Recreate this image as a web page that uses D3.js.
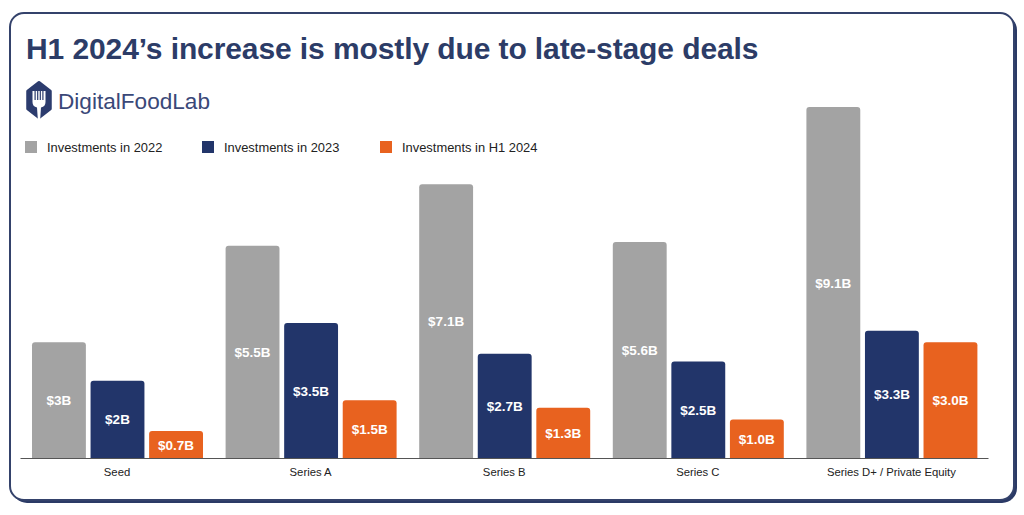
<!DOCTYPE html>
<html><head><meta charset="utf-8">
<script src="https://cdn.jsdelivr.net/npm/d3@7"></script>
<style>body{margin:0;background:#fff;}svg{display:block;font-family:"Liberation Sans",Arial,Helvetica,sans-serif;}</style>
</head><body>
<script>
const categories = ["Seed","Series A","Series B","Series C","Series D+ / Private Equity"];
const seriesNames = ["Investments in 2022","Investments in 2023","Investments in H1 2024"];
const values2022 = [3, 5.5, 7.1, 5.6, 9.1];
const values2023 = [2, 3.5, 2.7, 2.5, 3.3];
const valuesH12024 = [0.7, 1.5, 1.3, 1.0, 3.0];
const labels2022 = ["$3B","$5.5B","$7.1B","$5.6B","$9.1B"];
const labels2023 = ["$2B","$3.5B","$2.7B","$2.5B","$3.3B"];
const labelsH12024 = ["$0.7B","$1.5B","$1.3B","$1.0B","$3.0B"];
const colors = ["#a3a3a3","#22356a","#e8621f"];

const W=1024,H=515;
const svg=d3.select("body").append("svg").attr("width",W).attr("height",H);

// card border with shadow
svg.append("rect").attr("x",12).attr("y",15).attr("width",1005).attr("height",488).attr("rx",15)
  .attr("fill","#2b3a66");
svg.append("rect").attr("x",10).attr("y",13).attr("width",1004).attr("height",487).attr("rx",14)
  .attr("fill","#fff").attr("stroke","#34426b").attr("stroke-width",2);

// title
svg.append("text").attr("x",26).attr("y",59).attr("fill","#2c3c67")
  .attr("font-size",30).attr("font-weight","bold").attr("letter-spacing",-0.1)
  .text("H1 2024’s increase is mostly due to late-stage deals");

// logo
const lg=svg.append("g").attr("transform","translate(39,100)");
const hex=d3.range(6).map(i=>{const a=Math.PI/3*i-Math.PI/2;return [13*Math.cos(a)*1.0,17.5*Math.sin(a)];});
lg.append("path").attr("d","M"+hex.map(p=>p.join(",")).join("L")+"Z").attr("fill","#2c3c6e")
  .attr("stroke","#2c3c6e").attr("stroke-width",3).attr("stroke-linejoin","round");
lg.append("path").attr("d","M-6.5,-9 L-6.5,2 Q-6.5,6.5 -2,7.5 L-1.2,19 L1.2,19 L2,7.5 Q6.5,6.5 6.5,2 L6.5,-9 Z").attr("fill","#fff");
[-3.9,-1.3,1.3,3.9].forEach(x=>lg.append("rect").attr("x",x-0.6).attr("y",-9).attr("width",1.2).attr("height",9).attr("fill","#2c3c6e"));
svg.append("text").attr("x",58).attr("y",109).attr("fill","#3a4878").attr("font-size",22.6)
  .text("DigitalFoodLab");

// legend
const legX=[25,202,380];
seriesNames.forEach((s,i)=>{
  svg.append("rect").attr("x",legX[i]).attr("y",141).attr("width",12).attr("height",12).attr("fill",colors[i]);
  svg.append("text").attr("x",legX[i]+22).attr("y",151.5).attr("font-size",12.9).attr("fill","#222").text(s);
});

// scales
const baseline=458;
const x0=d3.scaleBand().domain(categories).range([20,988]).paddingInner(0.0).paddingOuter(0.0);
const x1=d3.scaleBand().domain([0,1,2]).range([12,183]).paddingInner(0.08);
const y=d3.scaleLinear().domain([0,9.1]).range([baseline,107]);

const data=categories.map((c,i)=>({c,vals:[values2022[i],values2023[i],valuesH12024[i]],labs:[labels2022[i],labels2023[i],labelsH12024[i]]}));

const g=svg.append("g");
data.forEach(d=>{
  const gx=x0(d.c);
  d.vals.forEach((v,k)=>{
    const bx=gx+x1(k), bw=x1.bandwidth(), by=y(v), bh=baseline-by;
    g.append("path").attr("fill",colors[k])
      .attr("d",`M${bx},${baseline}L${bx},${by+3}Q${bx},${by} ${bx+3},${by}L${bx+bw-3},${by}Q${bx+bw},${by} ${bx+bw},${by+3}L${bx+bw},${baseline}Z`);
    g.append("text").attr("x",bx+bw/2).attr("y",by+bh/2+5).attr("text-anchor","middle")
      .attr("fill","#fff").attr("font-weight","bold").attr("font-size",13.5).text(d.labs[k]);
  });
});

// axis
const ax=svg.append("g").attr("transform",`translate(0,${baseline})`)
  .call(d3.axisBottom(x0).tickSize(0).tickPadding(10));
ax.select(".domain").attr("stroke","#555").attr("stroke-width",1);
ax.selectAll("text").attr("font-size",11.3).attr("fill","#222").attr("font-family","Liberation Sans, Arial, sans-serif");
ax.selectAll(".tick").attr("transform",d=>`translate(${x0(d)+97},0)`);
</script>
</body></html>
